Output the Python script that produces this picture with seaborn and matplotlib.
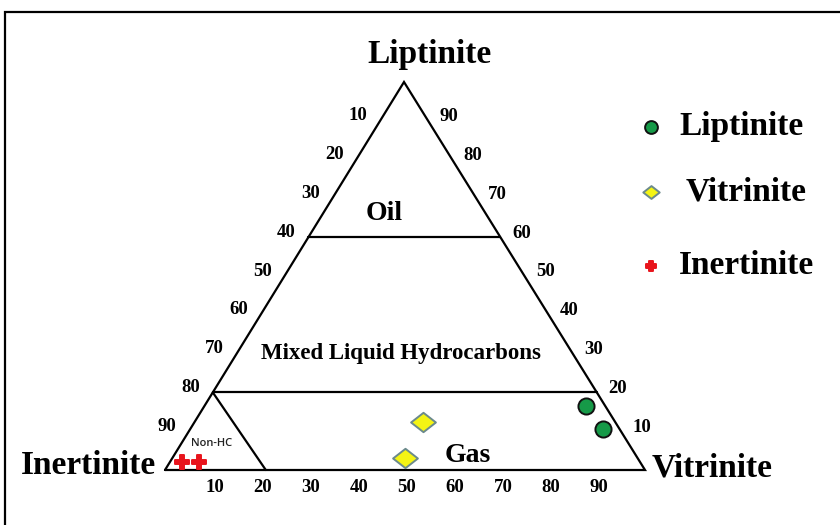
import numpy as np
import pandas as pd
import matplotlib
matplotlib.use("Agg")
import matplotlib.pyplot as plt
from matplotlib.path import Path
import seaborn as sns

# ---------------- data (ternary %: Liptinite, Vitrinite, Inertinite) ----------------
series_names = ["Liptinite", "Vitrinite", "Inertinite"]
liptinite_L = [16.5, 10.5]
liptinite_V = [79.5, 86.0]
liptinite_I = [4.0, 3.5]
vitrinite_L = [12.5, 3.0]
vitrinite_V = [47.5, 48.5]
vitrinite_I = [40.0, 48.5]
inertinite_L = [2.0, 2.0]
inertinite_V = [2.5, 6.0]
inertinite_I = [95.5, 92.0]

tick_values = [10, 20, 30, 40, 50, 60, 70, 80, 90]
oil_boundary_L = 60
mixed_boundary_L = 20
nonhc_boundary = 20
region_labels = ["Oil", "Mixed Liquid Hydrocarbons", "Gas", "Non-HC"]

# ---------------- layout ----------------
W, H = 840, 525
P_I = np.array([165.0, 470.0])   # Inertinite vertex (bottom-left)
P_V = np.array([645.0, 470.0])   # Vitrinite vertex (bottom-right)
P_L = np.array([404.0, 82.0])    # Liptinite vertex (top)


def tern(L, V):
    L = np.asarray(L, dtype=float) / 100.0
    V = np.asarray(V, dtype=float) / 100.0
    Iv = 1.0 - L - V
    x = Iv * P_I[0] + V * P_V[0] + L * P_L[0]
    y = Iv * P_I[1] + V * P_V[1] + L * P_L[1]
    return x, y


rows = []
for name, Ls, Vs, Is in [("Liptinite", liptinite_L, liptinite_V, liptinite_I),
                         ("Vitrinite", vitrinite_L, vitrinite_V, vitrinite_I),
                         ("Inertinite", inertinite_L, inertinite_V, inertinite_I)]:
    for l, v, i in zip(Ls, Vs, Is):
        x, y = tern(l, v)
        rows.append({"group": name, "L": l, "V": v, "I": i, "x": float(x), "y": float(y)})
df = pd.DataFrame(rows)

sns.set_theme(style="white")
plt.rcParams["text.color"] = "black"
serif = ["Liberation Serif", "DejaVu Serif"]

fig = plt.figure(figsize=(W / 100, H / 100), dpi=100)
ax = fig.add_axes([0, 0, 1, 1])

# outer frame (top and left edges visible)
ax.plot([5, 5, W], [H, 12, 12], color="black", lw=1.6, solid_joinstyle="miter")

# triangle
tri = np.array([P_I, P_V, P_L, P_I])
ax.plot(tri[:, 0], tri[:, 1], color="black", lw=1.6, solid_joinstyle="miter")

# region boundaries
x1, y1 = tern([oil_boundary_L, oil_boundary_L], [0, 100 - oil_boundary_L])
ax.plot(x1, y1, color="black", lw=1.6)
x2, y2 = tern([mixed_boundary_L, mixed_boundary_L], [0, 100 - mixed_boundary_L])
ax.plot(x2, y2, color="black", lw=1.6)
x3, y3 = tern([mixed_boundary_L, 0], [0, nonhc_boundary + 1])
ax.plot(x3, y3, color="black", lw=1.6)

# tick labels
tk = dict(fontsize=13.5, fontweight="bold", family=serif, ha="center", va="center", color="black")
for v in tick_values:
    x, y = tern(100 - v, 0)          # left side (values increase downward)
    ax.text(x - 22, y - 5, str(v), **tk)
    x, y = tern(v, 100 - v)          # right side (values increase upward)
    ax.text(x + 21, y - 4, str(v), **tk)
    x, y = tern(0, v)                # bottom
    ax.text(x + 2, y + 18, str(v), **tk)

# vertex labels
vl = dict(fontsize=24, fontweight="bold", family=serif, color="black", va="center")
ax.text(429, 55, "Liptinite", ha="center", **vl)
ax.text(88, 466, "Inertinite", ha="center", **vl)
ax.text(712, 468, "Vitrinite", ha="center", **vl)

# region labels
ax.text(384, 214, region_labels[0], fontsize=20, fontweight="bold", family=serif,
        ha="center", va="center", color="black")
ax.text(401, 353, region_labels[1], fontsize=16.5, fontweight="bold", family=serif,
        ha="center", va="center", color="black")
ax.text(468, 456, region_labels[2], fontsize=20, fontweight="bold", family=serif,
        ha="center", va="center", color="black")
ax.text(212, 443, region_labels[3], fontsize=8, fontweight="semibold",
        family=["Open Sans", "DejaVu Sans"], color="#222222", ha="center", va="center")

# markers
flat_diamond = Path([(-1, 0), (0, 0.78), (1, 0), (0, -0.78), (-1, 0)],
                    [Path.MOVETO, Path.LINETO, Path.LINETO, Path.LINETO, Path.CLOSEPOLY])
colors = {"Liptinite": "#169a48", "Vitrinite": "#f4f414", "Inertinite": "#e8141c"}
edges = {"Liptinite": "#111111", "Vitrinite": "#6b8a8c", "Inertinite": "#e8141c"}
markers = {"Liptinite": "o", "Vitrinite": flat_diamond, "Inertinite": "P"}
sizes = {"Liptinite": 135, "Vitrinite": 320, "Inertinite": 100}

for g in series_names:
    sub = df[df["group"] == g]
    sns.scatterplot(data=sub, x="x", y="y", ax=ax, marker=markers[g], s=sizes[g],
                    color=colors[g], edgecolor=edges[g], linewidth=1.4, legend=False,
                    zorder=5)

# legend
leg_y = [127, 192, 266]
leg_text_x = [679, 686, 679]
leg_sizes = {"Liptinite": 85, "Vitrinite": 140, "Inertinite": 55}
for g, yy, tx in zip(series_names, leg_y, leg_text_x):
    ax.scatter([651], [yy], marker=markers[g], s=leg_sizes[g], color=colors[g],
               edgecolor=edges[g], linewidth=1.4, zorder=5)
    ax.text(tx, yy, g, fontsize=24, fontweight="bold", family=serif,
            ha="left", va="center", color="black")

ax.set_xlim(0, W)
ax.set_ylim(H, 0)
ax.axis("off")

fig.savefig("out.png", dpi=100)
